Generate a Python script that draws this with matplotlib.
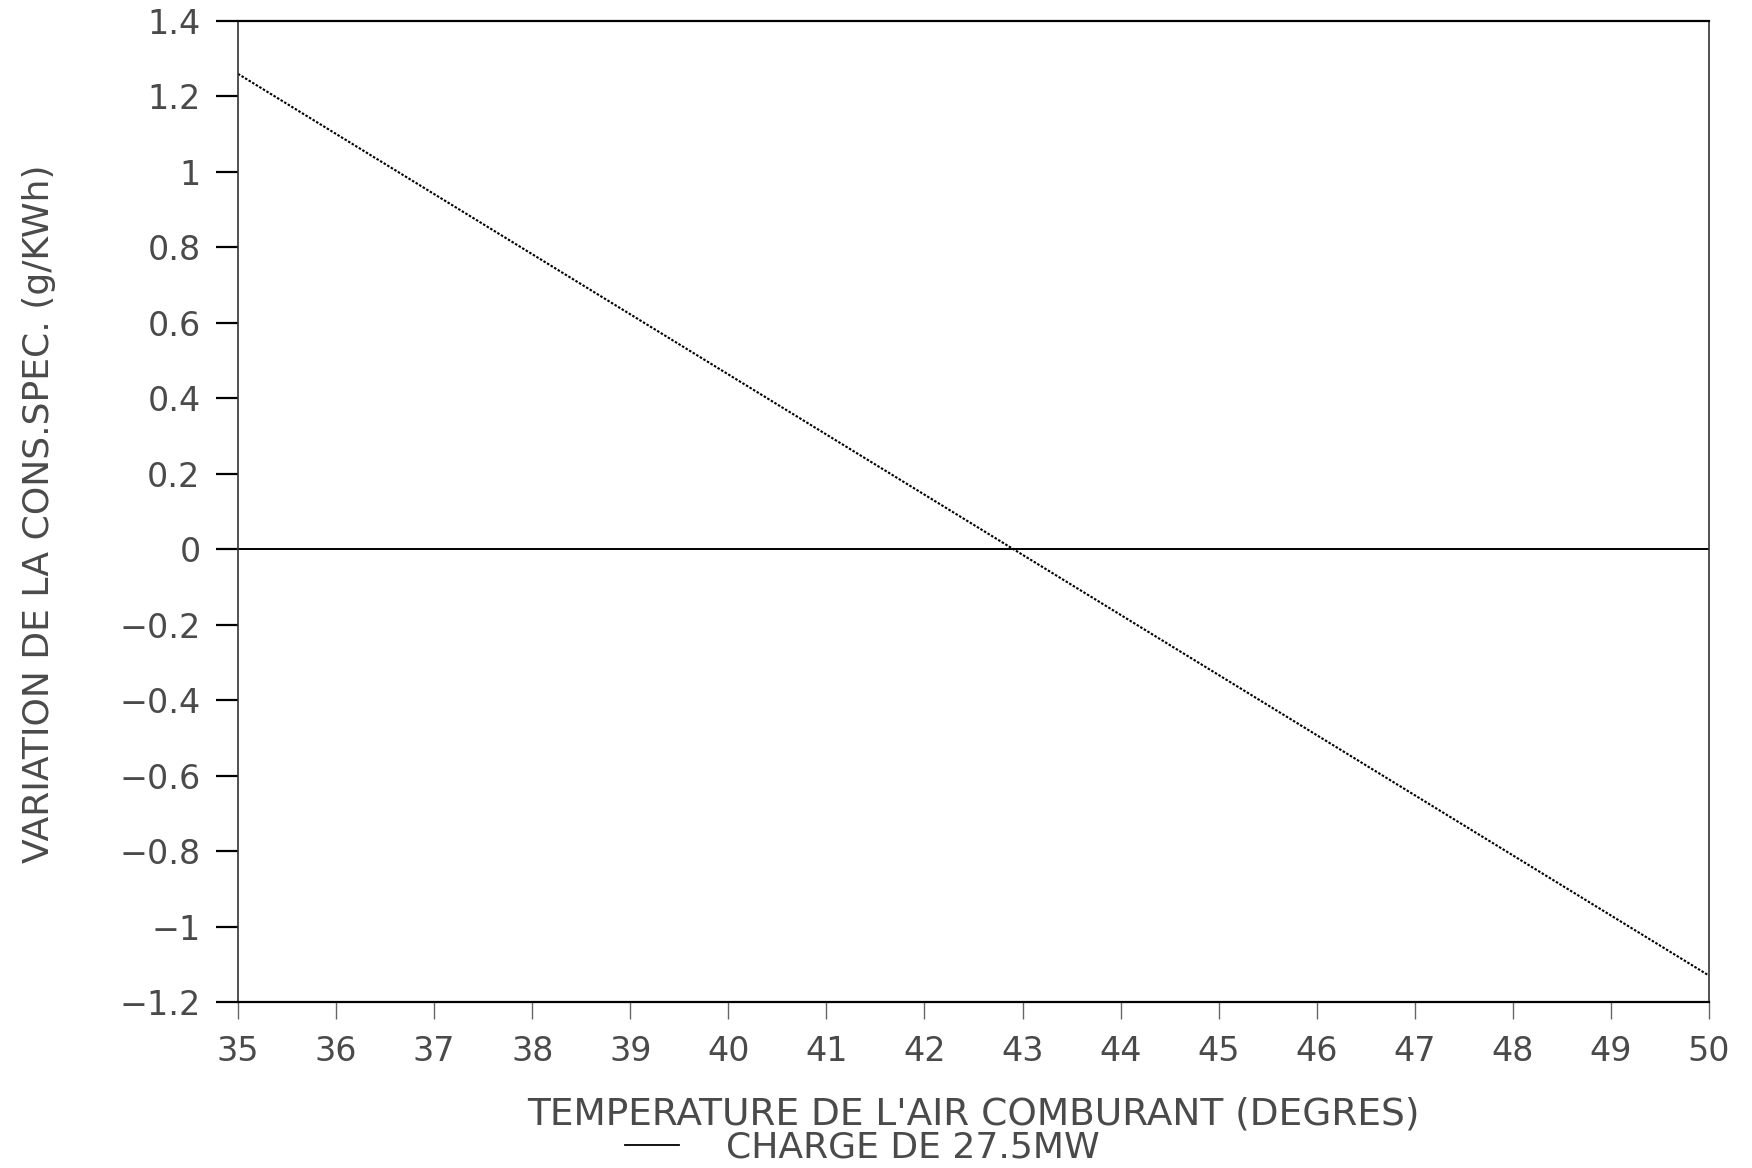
import matplotlib
matplotlib.use("Agg")
import matplotlib.pyplot as plt
from matplotlib.lines import Line2D
from matplotlib.ticker import FixedLocator, FixedFormatter

# Temperature of the combustion air (deg) and variation of specific consumption (g/kWh)
temperature = [35, 50]
variation = [1.26, -1.13]
series_label = "CHARGE DE 27.5MW"

x_ticks = [35, 36, 37, 38, 39, 40, 41, 42, 43, 44, 45, 46, 47, 48, 49, 50]
y_ticks = [1.4, 1.2, 1.0, 0.8, 0.6, 0.4, 0.2, 0.0, -0.2, -0.4, -0.6, -0.8, -1.0, -1.2]
y_tick_labels = ["1.4", "1.2", "1", "0.8", "0.6", "0.4", "0.2", "0",
                 "\u22120.2", "\u22120.4", "\u22120.6", "\u22120.8", "\u22121", "\u22121.2"]

x_label = "TEMPERATURE DE L'AIR COMBURANT (DEGRES)"
y_label = "VARIATION DE LA CONS.SPEC. (g/KWh)"

text_color = "#4a4a4a"
plt.rcParams["font.family"] = ["DejaVu Sans"]

fig = plt.figure(figsize=(17.52, 11.68), dpi=100)
ax = fig.add_axes([238 / 1752, 1 - 1002 / 1168, (1709 - 238) / 1752, (1002 - 21) / 1168])

ax.plot(temperature, variation, color="black", linewidth=1.5, linestyle=(0, (1.2, 0.8)))
ax.axhline(0, color="black", linewidth=1.4)

ax.set_xlim(35, 50)
ax.set_ylim(-1.2, 1.4)

ax.xaxis.set_major_locator(FixedLocator(x_ticks))
ax.xaxis.set_major_formatter(FixedFormatter([str(t) for t in x_ticks]))
ax.yaxis.set_major_locator(FixedLocator(y_ticks))
ax.yaxis.set_major_formatter(FixedFormatter(y_tick_labels))

ax.tick_params(axis="x", direction="out", length=12, width=1.0, color="#666666",
               pad=12, labelsize=24, labelcolor=text_color)
ax.tick_params(axis="y", direction="out", length=16, width=1.6, color="black",
               pad=11, labelsize=24, labelcolor=text_color)

for side in ("left", "right"):
    ax.spines[side].set_linestyle((0, (1, 1)))
    ax.spines[side].set_linewidth(1.2)
    ax.spines[side].set_color("#333333")
for side in ("top", "bottom"):
    ax.spines[side].set_linewidth(1.6)
    ax.spines[side].set_color("black")

ax.set_xlabel(x_label, fontsize=27, color=text_color)
ax.xaxis.label.set_va("center")
ax.xaxis.set_label_coords(0.5, -(1114 - 1002) / 981)

ax.set_ylabel(y_label, fontsize=26, color=text_color)
ax.yaxis.label.set_va("center")
ax.yaxis.set_label_coords((39 - 238) / 1471, (1002 - 514) / 981)

handle = Line2D([], [], color="black", linewidth=1.3)
fig.legend([handle], [series_label], loc="center left", bbox_to_anchor=(625 / 1752, 1 - 1148 / 1168),
           frameon=False, fontsize=26, labelcolor=text_color,
           handlelength=1.5, handletextpad=1.3, borderpad=0, borderaxespad=0)

fig.savefig("out.png", dpi=100, facecolor="white")
